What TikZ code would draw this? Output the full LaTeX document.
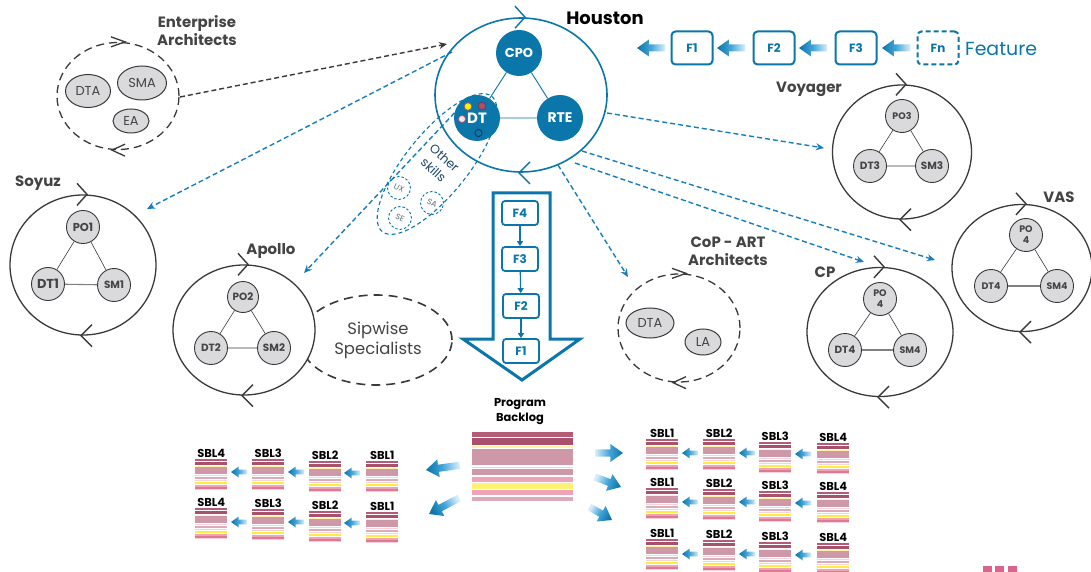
\documentclass[tikz,border=0pt]{standalone}
\usepackage{fontspec}
\setmainfont{Poppins}
\usetikzlibrary{arrows.meta,shapes.geometric,calc}
\definecolor{hblue}{RGB}{11,118,170}
\definecolor{ablue}{RGB}{22,126,190}
\definecolor{dgray}{RGB}{58,58,58}
\definecolor{ngray}{RGB}{218,218,220}
\definecolor{tgray}{RGB}{68,68,68}
\definecolor{navy}{RGB}{30,70,105}
\definecolor{sDM}{RGB}{180,92,118}
\definecolor{sDM2}{RGB}{168,80,108}
\definecolor{sPY}{RGB}{255,244,170}
\definecolor{sMV}{RGB}{206,152,168}
\definecolor{sLP}{RGB}{243,211,218}
\definecolor{sMV2}{RGB}{220,170,184}
\definecolor{sY}{RGB}{255,236,60}
\definecolor{sY2}{RGB}{255,241,118}
\definecolor{sPK}{RGB}{236,164,182}
\definecolor{sPK2}{RGB}{224,120,148}
\definecolor{logopk}{RGB}{217,100,140}
\definecolor{tailc}{RGB}{215,238,250}
\definecolor{midc}{RGB}{70,165,218}

\newcommand\fst[3]{\fill[#3] (0,#1) rectangle (1,#2);}
\newcommand\sblpat{\fst{0}{0.05}{sDM}\fst{0.09}{0.19}{sDM2}\fst{0.21}{0.24}{sPY}\fst{0.27}{0.47}{sMV}\fst{0.50}{0.54}{sLP}\fst{0.57}{0.64}{sMV2}\fst{0.67}{0.71}{sLP}\fst{0.74}{0.82}{sY}\fst{0.85}{0.89}{sPK}\fst{0.91}{0.96}{sPK2}\fst{0.98}{1}{sLP}}
\newcommand\pbpat{\fst{0}{0.07}{sDM}\fst{0.09}{0.19}{sDM2}\fst{0.20}{0.23}{sPY}\fst{0.24}{0.48}{sMV}\fst{0.50}{0.52}{sLP}\fst{0.54}{0.63}{sMV}\fst{0.65}{0.72}{sPK}\fst{0.74}{0.82}{sY2}\fst{0.84}{0.92}{sPK}\fst{0.94}{1}{sMV2}}
\newcommand\sblstack[4]{%
  \node[stackbox, anchor=north west] (#1) at (#2,#3) {};
  \begin{scope}[shift={(#2,#3)}, xscale=32, yscale=31]\sblpat\end{scope}
  \node[sbllab, anchor=south] (#1l) at ($(#1.north)+(0,-1)$) {#4};
}
% fat shaded arrow: head x, head y, visual angle, length, head half width, shaft half width
\newcommand\fatar[6]{%
  \pgfmathsetmacro\fdx{cos(#3)}%
  \pgfmathsetmacro\fdy{0-sin(#3)}%
  \pgfmathsetmacro\fhl{1.4*#5}%
  \pgfmathsetmacro\fax{#1-\fhl*(\fdx)-#5*(\fdy)}\pgfmathsetmacro\fay{#2-\fhl*(\fdy)+#5*(\fdx)}%
  \pgfmathsetmacro\fbx{#1-\fhl*(\fdx)-#6*(\fdy)}\pgfmathsetmacro\fby{#2-\fhl*(\fdy)+#6*(\fdx)}%
  \pgfmathsetmacro\fcx{#1-#4*(\fdx)-#6*(\fdy)}\pgfmathsetmacro\fcy{#2-#4*(\fdy)+#6*(\fdx)}%
  \pgfmathsetmacro\fddx{#1-#4*(\fdx)+#6*(\fdy)}\pgfmathsetmacro\fddy{#2-#4*(\fdy)-#6*(\fdx)}%
  \pgfmathsetmacro\fex{#1-\fhl*(\fdx)+#6*(\fdy)}\pgfmathsetmacro\fey{#2-\fhl*(\fdy)-#6*(\fdx)}%
  \pgfmathsetmacro\ffx{#1-\fhl*(\fdx)+#5*(\fdy)}\pgfmathsetmacro\ffy{#2-\fhl*(\fdy)-#5*(\fdx)}%
  \pgfmathsetmacro\fsa{#3-90}%
  \shade[top color=hblue, bottom color=tailc, middle color=midc, shading angle=\fsa]
    (#1,#2) -- (\fax,\fay) -- (\fbx,\fby) -- (\fcx,\fcy) -- (\fddx,\fddy) -- (\fex,\fey) -- (\ffx,\ffy) -- cycle;
}

\begin{document}
\begin{tikzpicture}[x=1bp,y=-1bp,
  grpc/.style={ellipse, draw=dgray, line width=1.3bp, fill=white, inner sep=0},
  mem/.style={circle, draw=dgray, line width=0.9bp, fill=ngray, inner sep=0, minimum size=33bp, text=tgray, font=\bfseries\fontsize{10.5}{10}\selectfont, align=center},
  link/.style={draw=dgray, line width=0.6bp},
  hlink/.style={draw=gray, line width=1.1bp},
  grplab/.style={text=tgray, font=\bfseries\fontsize{15}{18}\selectfont, align=center, inner sep=0},
  dashgrp/.style={ellipse, draw=dgray, line width=1.3bp, dash pattern=on 8bp off 5bp, inner sep=0},
  arch/.style={ellipse, draw=dgray, line width=1bp, fill=ngray, inner sep=0, text=tgray, font=\fontsize{13}{14}\selectfont},
  bdash/.style={draw=ablue, line width=1.4bp, dash pattern=on 5bp off 3bp, -{Stealth[length=8bp,width=7bp]}},
  ddash/.style={draw=dgray, line width=1.4bp, dash pattern=on 5bp off 3bp, -{Stealth[length=8bp,width=7bp]}},
  hnode/.style={circle, fill=hblue, inner sep=0, minimum size=46bp, text=white, font=\bfseries\fontsize{14}{15}\selectfont},
  fbox/.style={draw=hblue, line width=2bp, rounded corners=4bp, fill=white, minimum width=41bp, minimum height=33bp, inner sep=0, text=hblue, font=\bfseries\fontsize{12}{13}\selectfont},
  fsmall/.style={fbox, line width=1.8bp, rounded corners=3bp, minimum width=36bp, minimum height=24bp},
  farr/.style={draw=hblue, line width=1.2bp, -{Triangle[length=5bp,width=6bp]}},
  sbllab/.style={text=black, font=\bfseries\fontsize{11.5}{12}\selectfont, inner sep=0},
  stackbox/.style={minimum width=32bp, minimum height=31bp, inner sep=0},
  skill/.style={circle, draw=hblue, line width=0.9bp, dash pattern=on 2.5bp off 2bp, minimum size=23bp, inner sep=0, text=gray!60!navy, font=\fontsize{8}{9}\selectfont},
  chevR/.pic={\draw[line width=1.4bp, line join=miter] (-6,-11) -- (4,0) -- (-6,11);},
  chevL/.pic={\draw[line width=1.4bp, line join=miter] (9,-11) -- (-2,0) -- (9,11);},
  chevRf/.pic={\draw[line width=1.3bp, line join=miter] (-7,-5) -- (7,0) -- (-7,5);},
  chevLf/.pic={\draw[line width=1.3bp, line join=miter] (7,-6) -- (-6,0) -- (7,6);}
]
\useasboundingbox (0,0) rectangle (1091,572);
\fill[white] (0,0) rectangle (1091,572);

% ---------- coordinates for free connector ends ----------
\coordinate (eaOut) at (180,97);
\coordinate (houEA) at (447,44);
\coordinate (sSoy) at (452,52);   \coordinate (eSoy) at (147,209);
\coordinate (sApo) at (460,107);  \coordinate (eApo) at (304,273);
\coordinate (sCoP) at (558,165);  \coordinate (eCoP) at (628,277);
\coordinate (sCP)  at (575,163);  \coordinate (eCP)  at (864,262);
\coordinate (sVAS) at (582,151);  \coordinate (eVAS) at (935,260);
\coordinate (sVoy) at (607,113);  \coordinate (eVoy) at (824,148);

% ---------- background dashed shapes ----------
\node[ellipse, draw=dgray, line width=1.6bp, dash pattern=on 9bp off 6bp, minimum width=152bp, minimum height=90bp, inner sep=0] (sip) at (376,340) {};
\node[text=tgray, font=\fontsize{16.5}{20}\selectfont, align=center] (sipL) at (378,340) {Sipwise\\Specialists};

\draw[draw=hblue, line width=1.1bp, dash pattern=on 4bp off 3bp, rotate around={51:(437,164)}] (437,164) ellipse [x radius=87, y radius=31];

% ---------- connectors ----------
\draw[ddash] (eaOut) -- (houEA);
\draw[bdash] (sSoy) -- (eSoy);
\draw[bdash] (sApo) -- (eApo);
\draw[bdash] (sCoP) -- (eCoP);
\draw[bdash] (sCP) -- (eCP);
\draw[bdash] (sVAS) -- (eVAS);
\draw[bdash] (sVoy) -- (eVoy);

% ---------- Houston ----------
\node[ellipse, draw=hblue, line width=1.6bp, minimum width=172bp, minimum height=154bp, inner sep=0] (hou) at (521,95) {};
\pic[hblue] at (hou.north) {chevR};
\pic[hblue] at (hou.south) {chevL};
\node[hnode, font=\bfseries\fontsize{13}{14}\selectfont] (cpo) at (519,53) {CPO};
\node[hnode] (rte) at (560,118) {RTE};
\node[hnode, font=\bfseries\fontsize{15}{16}\selectfont] (dt) at (477,118) {DT};
\draw[hblue, line width=0.9bp] (cpo) -- (dt) (cpo) -- (rte) (dt) -- (rte);
\draw[draw=sDM2, fill=yellow, line width=0.8bp] (468,106.5) circle (3.8);
\draw[draw=sDM2!70!black, fill=sDM2, line width=0.8bp] (482,106) circle (3.8);
\draw[draw=sDM2, fill=sLP!60!white, line width=0.8bp] (462,119) circle (3.6);
\draw[draw=navy!80!black, line width=0.9bp] (478.5,133) circle (3.6);
\node[text=black, font=\bfseries\fontsize{18}{19}\selectfont, inner sep=0] (houL) at (605,18) {Houston};

% Other skills
\node[text=navy, font=\fontsize{12.5}{16.5}\selectfont, align=center, rotate=-42, inner sep=0] (othL) at (439,164) {Other\\skills};
\node[skill, rotate=-25] (ux) at (399,188) {UX};
\node[skill, rotate=-25] (se) at (400,218) {SE};
\node[skill, rotate=-25] (sa) at (432,203) {SA};

% ---------- feature chain ----------
\node[fbox] (fa1) at (692,48) {F1};
\node[fbox] (fa2) at (774,48) {F2};
\node[fbox] (fa3) at (856,48) {F3};
\node[fbox, dashed, dash pattern=on 5bp off 3bp] (fan) at (938,48) {Fn};
\node[anchor=west, text=hblue, font=\fontsize{19}{20}\selectfont, inner sep=0] (featL) at (965,49) {Feature};
\fatar{637}{48}{180}{28}{8.5}{3.5}
\fatar{717}{48}{180}{28}{8.5}{3.5}
\fatar{799}{48}{180}{28}{8.5}{3.5}
\fatar{882}{48}{180}{28}{8.5}{3.5}

% ---------- Enterprise Architects ----------
\node[dashgrp, minimum width=122bp, minimum height=107bp] (ea) at (118,96) {};
\pic[dgray] at (ea.north) {chevRf};
\pic[dgray] at (ea.south) {chevLf};
\node[arch, minimum width=45bp, minimum height=33bp] (eadta) at (88,91) {DTA};
\node[arch, minimum width=49bp, minimum height=34bp] (easma) at (142,83) {SMA};
\node[arch, minimum width=36bp, minimum height=24bp] (eaea) at (131,121) {EA};
\node[grplab] (eaL) at (197,31) {Enterprise\\Architects};

% ---------- Soyuz ----------
\node[grpc, minimum width=146bp, minimum height=140bp] (soy) at (83,265) {};
\pic[dgray] at (soy.north) {chevR};
\pic[dgray] at (soy.south) {chevL};
\node[mem, font=\bfseries\fontsize{11.5}{12}\selectfont] (po1) at (83,227) {PO1};
\node[mem, font=\bfseries\fontsize{13}{13}\selectfont] (dt1) at (48,284) {DT1};
\node[mem] (sm1) at (114,285) {SM1};
\draw[link] (po1) -- (dt1) (po1) -- (sm1);
\draw[hlink] (dt1) -- (sm1);
\node[grplab] (soyL) at (38,183) {Soyuz};

% ---------- Apollo ----------
\node[grpc, minimum width=142bp, minimum height=130bp] (apo) at (244,330) {};
\pic[dgray] at (apo.north) {chevR};
\pic[dgray] at (apo.south) {chevL};
\node[mem, minimum size=31bp] (po2) at (243,297) {PO2};
\node[mem] (dt2) at (211,348) {DT2};
\node[mem] (sm2) at (274,348) {SM2};
\draw[link] (po2) -- (dt2) (po2) -- (sm2) (dt2) -- (sm2);
\node[grplab] (apoL) at (271,251) {Apollo};

% ---------- Voyager ----------
\node[grpc, minimum width=139bp, minimum height=134bp] (voy) at (902,152) {};
\pic[dgray] at (voy.north) {chevR};
\pic[dgray] at (voy.south) {chevL};
\node[mem, font=\bfseries\fontsize{9.5}{10}\selectfont] (po3) at (902,116) {PO3};
\node[mem] (dt3) at (870,166) {DT3};
\node[mem] (sm3) at (932,166) {SM3};
\draw[link] (po3) -- (dt3) (po3) -- (sm3) (dt3) -- (sm3);
\node[grplab] (voyL) at (809,89) {Voyager};

% ---------- CP ----------
\node[grpc, minimum width=146bp, minimum height=129bp] (cp) at (880,332) {};
\pic[dgray] at (cp.north) {chevR};
\pic[dgray] at (cp.south) {chevL};
\node[mem, font=\bfseries\fontsize{9.5}{11}\selectfont] (po4a) at (880,299) {PO\\4};
\node[mem] (dt4a) at (845,350) {DT4};
\node[mem, font=\bfseries\fontsize{9.5}{10}\selectfont] (sm4a) at (910,350) {SM4};
\draw[link] (po4a) -- (dt4a) (po4a) -- (sm4a);
\draw[hlink] (dt4a) -- (sm4a);
\node[grplab] (cpL) at (825,272) {CP};

% ---------- VAS ----------
\node[grpc, minimum width=140bp, minimum height=127bp] (vas) at (1022,268) {};
\pic[dgray] at (vas.north) {chevR};
\pic[dgray] at (vas.south) {chevL};
\node[mem, font=\bfseries\fontsize{9.5}{11}\selectfont] (po4b) at (1026,235) {PO\\4};
\node[mem, font=\bfseries\fontsize{9.5}{10}\selectfont] (dt4b) at (991,286) {DT4};
\node[mem, font=\bfseries\fontsize{9.5}{10}\selectfont] (sm4b) at (1057,286) {SM4};
\draw[link] (po4b) -- (dt4b) (po4b) -- (sm4b);
\draw[hlink] (dt4b) -- (sm4b);
\node[grplab] (vasL) at (1059,197) {VAS};

% ---------- CoP - ART Architects ----------
\node[dashgrp, minimum width=122bp, minimum height=108bp] (cop) at (679,328) {};
\pic[dgray] at (cop.north) {chevRf};
\pic[dgray] at (cop.south) {chevLf};
\node[arch, minimum width=48bp, minimum height=30bp] (copdta) at (650,323) {DTA};
\node[arch, minimum width=36bp, minimum height=26bp] (copla) at (703,342) {LA};
\node[grplab] (copL) at (728,251) {CoP - ART\\Architects};

% ---------- big down arrow with features ----------
\draw[hblue, line width=3bp, fill=white, line join=miter] (493,193) -- (550,193) -- (550,339) -- (580,339) -- (522,380) -- (463,339) -- (493,339) -- cycle;
\node[fsmall] (fb4) at (520,213) {F4};
\node[fsmall] (fb3) at (520,259) {F3};
\node[fsmall] (fb2) at (521,306) {F2};
\node[fsmall] (fb1) at (521,351) {F1};
\draw[farr] (fb4) -- (fb3);
\draw[farr] (fb3) -- (fb2);
\draw[farr] (fb2) -- (fb1);

% ---------- Program Backlog ----------
\node[text=black, font=\bfseries\fontsize{11.5}{15}\selectfont, align=center, inner sep=0] (pbL) at (520,412) {Program\\Backlog};
\node[minimum width=101bp, minimum height=69bp, inner sep=0, anchor=north west] (pb) at (472,432) {};
\begin{scope}[shift={(472,432)}, xscale=101, yscale=69]\pbpat\end{scope}
\fatar{426}{470}{188}{34}{9}{3.6}
\fatar{429}{514}{208}{34}{9}{3.6}
\fatar{623}{453}{0}{28}{9}{3.6}
\fatar{621}{487}{-21}{28}{9}{3.6}
\fatar{612}{520}{-30}{26}{9}{3.6}

% ---------- left SBLs ----------
\sblstack{la4}{195}{459}{SBL4}
\sblstack{la3}{252}{459}{SBL3}
\sblstack{la2}{309}{461}{SBL2}
\sblstack{la1}{366}{461}{SBL1}
\sblstack{lb4}{195}{508}{SBL4}
\sblstack{lb3}{252}{509}{SBL3}
\sblstack{lb2}{309}{511}{SBL2}
\sblstack{lb1}{366}{512}{SBL1}
\fatar{231}{472}{180}{16}{5.5}{2.3}
\fatar{288}{472}{180}{16}{5.5}{2.3}
\fatar{344}{473}{180}{16}{5.5}{2.3}
\fatar{231}{522}{180}{16}{5.5}{2.3}
\fatar{288}{522}{180}{16}{5.5}{2.3}
\fatar{344}{523}{180}{16}{5.5}{2.3}

% ---------- right SBLs ----------
\sblstack{ra1}{646}{439}{SBL1}
\sblstack{ra2}{703}{439}{SBL2}
\sblstack{ra3}{759}{442}{SBL3}
\sblstack{ra4}{817}{443}{SBL4}
\sblstack{rb1}{646}{488}{SBL1}
\sblstack{rb2}{703}{489}{SBL2}
\sblstack{rb3}{759}{491}{SBL3}
\sblstack{rb4}{817}{492}{SBL4}
\sblstack{rc1}{646}{539}{SBL1}
\sblstack{rc2}{703}{540}{SBL2}
\sblstack{rc3}{759}{542}{SBL3}
\sblstack{rc4}{817}{543}{SBL4}
\fatar{682}{453}{180}{16}{5.5}{2.3}
\fatar{739}{453}{180}{16}{5.5}{2.3}
\fatar{795}{454}{180}{16}{5.5}{2.3}
\fatar{682}{502}{180}{16}{5.5}{2.3}
\fatar{739}{502}{180}{16}{5.5}{2.3}
\fatar{795}{503}{180}{16}{5.5}{2.3}
\fatar{682}{554}{180}{16}{5.5}{2.3}
\fatar{739}{554}{180}{16}{5.5}{2.3}
\fatar{795}{555}{180}{16}{5.5}{2.3}

% ---------- logo fragment ----------
\fill[logopk] (983,566) rectangle (992,572);
\fill[logopk] (995,566) rectangle (1004,572);
\fill[logopk] (1008,566) rectangle (1017,572);
\end{tikzpicture}
\end{document}
